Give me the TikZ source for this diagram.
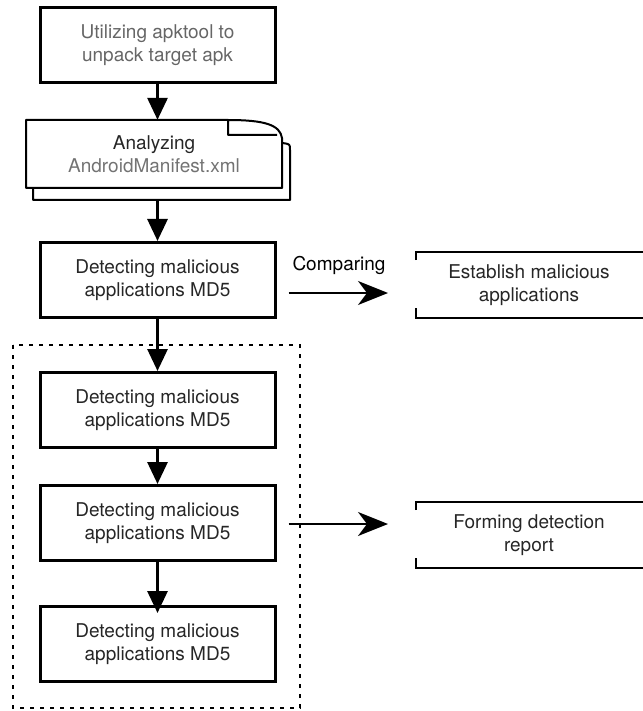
\documentclass[tikz,border=0pt]{standalone}
\usepackage{fontspec}
\setmainfont{TeX Gyre Heros}
\usetikzlibrary{arrows.meta}
\tikzset{
  procbox/.style={draw=black,line width=3pt,minimum width=235pt,minimum height=75pt,inner sep=0pt,align=center,text=black!85},
  notebox/.style={minimum width=226pt,minimum height=66pt,inner sep=0pt,align=center,text=black!85},
  flow/.style={line width=3pt,-{Triangle[length=22pt,width=20pt]}},
  side/.style={line width=2pt,-{Stealth[length=30pt,width=24pt,inset=9pt]}}
}
\begin{document}
\begin{tikzpicture}[x=1pt,y=-1pt,font=\fontsize{19}{23}\selectfont]
\useasboundingbox (0,0) rectangle (642,711);
%group frame
\draw[line width=2.5pt,dash pattern=on 4pt off 6pt] (13,345) rectangle (300,708);
%boxes
\node[procbox,text=black!60] (unpack) at (157.5,45) {Utilizing apktool to\\unpack target apk};
\node[align=center,minimum width=256pt,minimum height=68pt,inner sep=0pt] (manifest) at (154,154) {\textcolor{black!85}{Analyzing}\\\textcolor{black!55}{AndroidManifest.xml}};
\node[procbox] (md5) at (157.5,280) {Detecting malicious\\applications MD5};
\node[procbox] (checka) at (157.5,410) {Detecting malicious\\applications MD5};
\node[procbox] (checkb) at (157.5,523) {Detecting malicious\\applications MD5};
\node[procbox] (checkc) at (157.5,644) {Detecting malicious\\applications MD5};
\node[notebox] (establish) at (529,285) {Establish malicious\\applications};
\node[notebox] (report) at (529,535) {Forming detection\\report};
%document sheets
\draw[line width=2pt,line join=round] (33,188) -- (33,200) -- (290,200) -- (290,150)
  .. controls (290,144) .. (282,143);
\draw[line width=2pt,line join=round] (228,120) -- (26,120) -- (26,188) -- (282,188) -- (282,138)
  .. controls (280,125) and (265,120) .. (228,120) -- (228,135) -- (277,135);
%open note boxes
\draw[line width=2pt] (416,260) -- (416,252) -- (650,252);
\draw[line width=2pt] (416,308) -- (416,318) -- (650,318);
\draw[line width=2pt] (416,510) -- (416,502) -- (650,502);
\draw[line width=2pt] (416,558) -- (416,568) -- (650,568);
%flow
\draw[flow] (unpack.south) -- (unpack.south |- manifest.north);
\draw[flow] (md5.north |- 0,200) -- (md5.north);
\draw[flow] (md5.south) -- (checka.north);
\draw[flow] (checka.south) -- (checkb.north);
\draw[flow] (checkb.south) -- ([yshift=-8pt]checkc.north);
%side arrows
\coordinate (cmpend) at (388,293);
\coordinate (repend) at (388,524);
\draw[side] (md5.east |- cmpend) ++(12,0) -- (cmpend);
\node (compare) at (339,265) {Comparing};
\draw[side] (checkb.east |- repend) ++(12,0) -- (repend);
\end{tikzpicture}
\end{document}
